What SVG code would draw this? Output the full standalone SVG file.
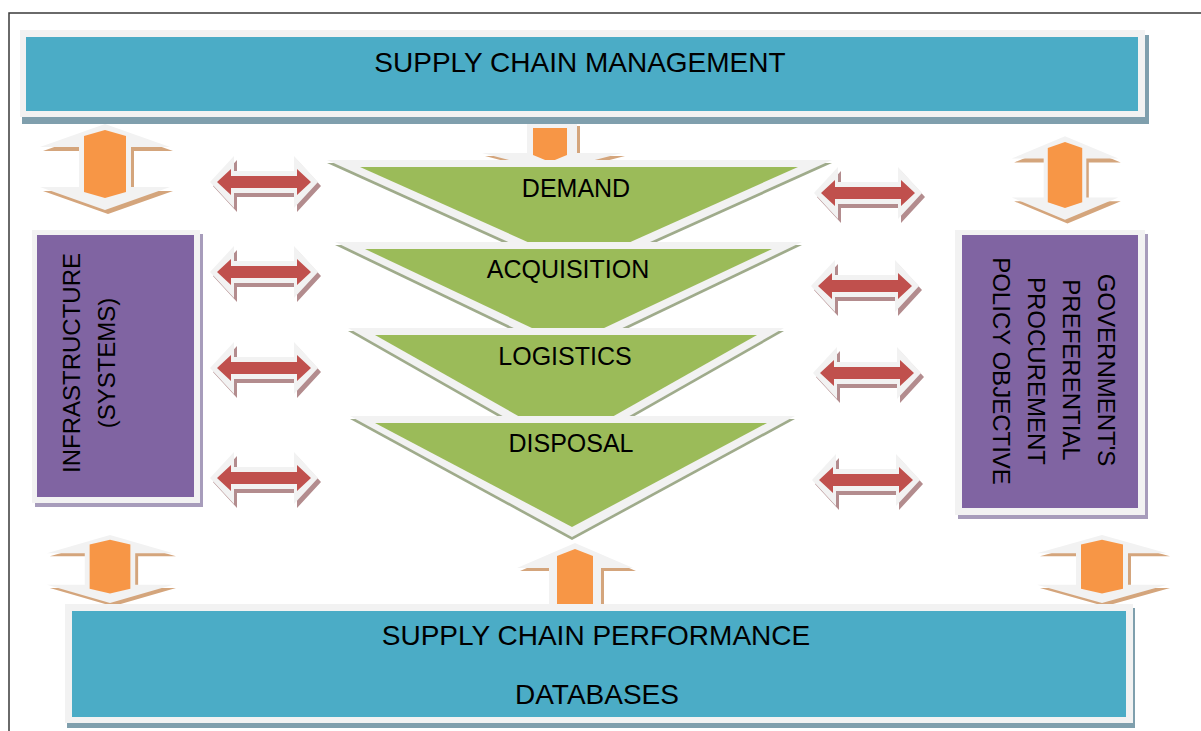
<svg xmlns="http://www.w3.org/2000/svg" xmlns:xlink="http://www.w3.org/1999/xlink" width="1201" height="731" viewBox="0 0 1201 731">
<style>
.t{font-family:"Liberation Sans",Arial,sans-serif;fill:#000}
.title{font-size:28px}
.lbl{font-size:25px}
.side{font-size:24px}
.frame{fill:#f2f2f2}
.blue{fill:#4bacc6}
.bshadow{fill:#7f9fad}
.purple{fill:#8064a2}
.pshadow{fill:#a79cbb}
.green{fill:#9bbb59}
.gshadow{fill:#9fab8b}
.orange{fill:#f79646}
.tan{fill:#d4a57c}
.red{fill:#c0504d}
.mauve{fill:#b38c8e}
</style>
<defs>
<g id="vdbl">
<polygon class="tan" transform="translate(3,4)" points="0,-43 65,-20 26,-20 26,20 65,20 0,43 -65,20 -26,20 -26,-20 -65,-20"/>
<polygon class="frame" points="0,-43 65,-20 26,-20 26,20 65,20 0,43 -65,20 -26,20 -26,-20 -65,-20"/>
<polygon class="orange" points="0,-37 21,-31 21,25 0,31 -21,25 -21,-31"/>
</g>
<g id="hdbl">
<polygon class="mauve" transform="translate(3,4)" points="-54,0 -30,-26 -30,-11 30,-11 30,-26 54,0 30,26 30,11 -30,11 -30,26"/>
<polygon class="frame" points="-54,0 -30,-26 -30,-11 30,-11 30,-26 54,0 30,26 30,11 -30,11 -30,26"/>
<polygon class="red" points="-47,0 -33,-13 -33,-6 33,-6 33,-13 47,0 33,13 33,6 -33,6 -33,13"/>
</g>
</defs>
<rect width="1201" height="731" fill="#ffffff"/>
<path d="M9,731 V13 H1201" fill="none" stroke="#3a3a3a" stroke-width="1.5"/>

<g id="connectors">
<use xlink:href="#vdbl" transform="translate(105,167)"/>
<use xlink:href="#vdbl" transform="translate(1065,178) scale(0.82,0.97)"/>
<use xlink:href="#vdbl" transform="translate(110,569) scale(0.97,0.79)"/>
<use xlink:href="#vdbl" transform="translate(1102,569) scale(1,0.79)"/>
<g id="down-arrow">
<polygon class="tan" transform="translate(3,3)" points="527,123 577,123 577,153 622,153 552,171 482,153 527,153"/>
<polygon class="frame" points="527,123 577,123 577,153 622,153 552,171 482,153 527,153"/>
<polygon class="orange" points="533,128 567,128 567,155 550,162 533,155"/>
</g>
<g id="up-arrow">
<polygon class="tan" transform="translate(3,3)" points="575,543 633,568 601,568 601,608 549,608 549,568 517,568"/>
<polygon class="frame" points="575,543 633,568 601,568 601,608 549,608 549,568 517,568"/>
<polygon class="orange" points="575,549 593,556 593,606 557,606 557,556"/>
</g>
<use xlink:href="#hdbl" transform="translate(264,182)"/>
<use xlink:href="#hdbl" transform="translate(264,272)"/>
<use xlink:href="#hdbl" transform="translate(264,368)"/>
<use xlink:href="#hdbl" transform="translate(264,478)"/>
<use xlink:href="#hdbl" transform="translate(868,193)"/>
<use xlink:href="#hdbl" transform="translate(865,286)"/>
<use xlink:href="#hdbl" transform="translate(867,373)"/>
<use xlink:href="#hdbl" transform="translate(866,480)"/>
</g>

<g id="scm">
<rect class="bshadow" x="22" y="35" width="1127" height="89"/>
<rect class="frame" x="20" y="30" width="1125" height="87"/>
<rect class="blue" x="26" y="37" width="1112" height="74"/>
<text class="t title" x="580" y="72" text-anchor="middle">SUPPLY CHAIN MANAGEMENT</text>
</g>

<g id="demand">
<polygon class="gshadow" transform="translate(0,3)" points="327,160 832,160 579,274"/>
<polygon class="frame" points="327,160 832,160 579,274"/>
<polygon class="green" points="360,167 798,167 579,265"/>
<text class="t lbl" x="576" y="197" text-anchor="middle">DEMAND</text>
</g>
<g id="acquisition">
<polygon class="gshadow" transform="translate(0,3)" points="335,242 802,242 568,354"/>
<polygon class="frame" points="335,242 802,242 568,354"/>
<polygon class="green" points="365,249 772,249 568,345"/>
<text class="t lbl" x="568" y="278" text-anchor="middle">ACQUISITION</text>
</g>
<g id="logistics">
<polygon class="gshadow" transform="translate(0,3)" points="348,328 784,328 566,452"/>
<polygon class="frame" points="348,328 784,328 566,452"/>
<polygon class="green" points="375,335 757,335 566,443"/>
<text class="t lbl" x="565" y="365" text-anchor="middle">LOGISTICS</text>
</g>
<g id="disposal">
<polygon class="gshadow" transform="translate(0,3)" points="350,416 795,416 572,537"/>
<polygon class="frame" points="350,416 795,416 572,537"/>
<polygon class="green" points="375,423 767,423 572,527"/>
<text class="t lbl" x="571" y="452" text-anchor="middle">DISPOSAL</text>
</g>

<g id="infrastructure">
<rect class="pshadow" x="35" y="234" width="168" height="273"/>
<rect class="frame" x="32" y="230" width="168" height="273"/>
<rect class="purple" x="37" y="235" width="157" height="262"/>
<text class="t side" transform="translate(80,363) rotate(-90)" text-anchor="middle">INFRASTRUCTURE</text>
<text class="t side" transform="translate(115,363) rotate(-90)" text-anchor="middle">(SYSTEMS)</text>
</g>

<g id="government">
<rect class="pshadow" x="958" y="234" width="190" height="285"/>
<rect class="frame" x="955" y="230" width="190" height="285"/>
<rect class="purple" x="962" y="235" width="176" height="273"/>
<text class="t side" transform="translate(1098,370) rotate(90)" text-anchor="middle">GOVERNMENT'S</text>
<text class="t side" transform="translate(1063,370) rotate(90)" text-anchor="middle">PREFERENTIAL</text>
<text class="t side" transform="translate(1028,371) rotate(90)" text-anchor="middle">PROCUREMENT</text>
<text class="t side" transform="translate(993,371) rotate(90)" text-anchor="middle">POLICY OBJECTIVE</text>
</g>

<g id="performance">
<rect class="bshadow" x="67" y="608" width="1068" height="120"/>
<rect class="frame" x="65" y="604" width="1068" height="119"/>
<rect class="blue" x="72" y="611" width="1054" height="106"/>
<text class="t title" x="596" y="645" text-anchor="middle">SUPPLY CHAIN PERFORMANCE</text>
<text class="t title" x="597" y="704" text-anchor="middle">DATABASES</text>
</g>
</svg>
